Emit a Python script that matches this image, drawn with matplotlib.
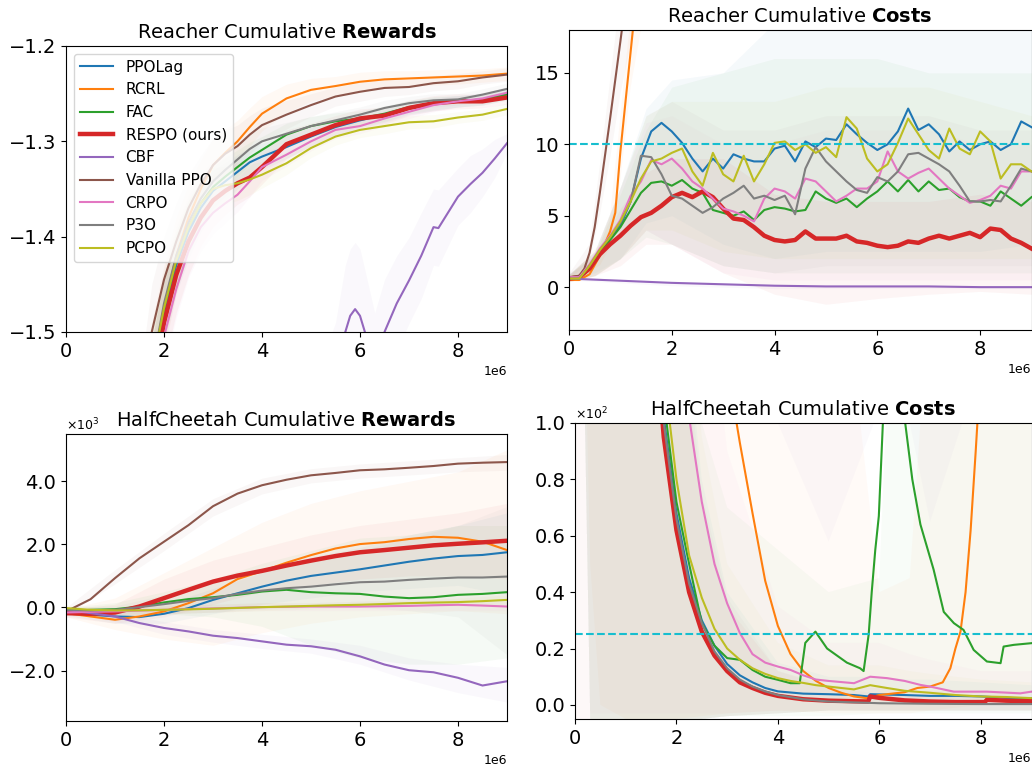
import numpy as np
import matplotlib
matplotlib.use("Agg")
import matplotlib.pyplot as plt
from matplotlib.ticker import ScalarFormatter

plt.rcParams['font.family'] = ['DejaVu Sans']
plt.rcParams['axes.unicode_minus'] = True

METHODS = ["PPOLag", "RCRL", "FAC", "RESPO (ours)", "CBF", "Vanilla PPO", "CRPO", "P3O", "PCPO"]
COLORS = ["#1f77b4", "#ff7f0e", "#2ca02c", "#d62728", "#9467bd", "#8c564b", "#e377c2", "#7f7f7f", "#bcbd22"]
X_TICKS = [0, 2, 4, 6, 8]

# ---------------- Reacher cumulative rewards (x in 1e6 steps) ----------------
RR_X = [1.5, 1.75, 2.0, 2.25, 2.5, 2.75, 3.0, 3.25, 3.5, 3.75, 4.0, 4.5, 5.0, 5.5, 6.0, 6.5, 7.0, 7.5, 8.0, 8.5, 9.0]
RR_PPOLAG = [-1.64, -1.55, -1.48, -1.43, -1.395, -1.37, -1.352, -1.342, -1.332, -1.322, -1.316, -1.306, -1.295, -1.285, -1.278, -1.272, -1.265, -1.261, -1.258, -1.256, -1.250]
RR_RCRL = [-1.62, -1.54, -1.475, -1.42, -1.38, -1.35, -1.325, -1.312, -1.300, -1.285, -1.271, -1.255, -1.246, -1.242, -1.2375, -1.235, -1.234, -1.233, -1.232, -1.231, -1.229]
RR_FAC = [-1.64, -1.55, -1.475, -1.425, -1.39, -1.365, -1.348, -1.337, -1.327, -1.317, -1.309, -1.293, -1.284, -1.279, -1.276, -1.271, -1.264, -1.260, -1.258, -1.256, -1.251]
RR_RESPO = [-1.65, -1.56, -1.49, -1.44, -1.405, -1.38, -1.362, -1.352, -1.344, -1.338, -1.327, -1.303, -1.293, -1.283, -1.276, -1.273, -1.265, -1.260, -1.258, -1.258, -1.254]
RR_VANILLA = [-1.60, -1.50, -1.445, -1.405, -1.37, -1.345, -1.325, -1.313, -1.305, -1.293, -1.283, -1.272, -1.262, -1.253, -1.248, -1.244, -1.243, -1.239, -1.237, -1.233, -1.230]
RR_CRPO = [-1.66, -1.58, -1.505, -1.455, -1.415, -1.39, -1.375, -1.365, -1.356, -1.342, -1.327, -1.314, -1.300, -1.288, -1.284, -1.276, -1.269, -1.262, -1.258, -1.255, -1.249]
RR_P3O = [-1.63, -1.54, -1.47, -1.42, -1.385, -1.36, -1.342, -1.33, -1.319, -1.308, -1.300, -1.292, -1.284, -1.278, -1.272, -1.265, -1.260, -1.257, -1.256, -1.251, -1.245]
RR_PCPO = [-1.62, -1.54, -1.475, -1.425, -1.39, -1.365, -1.35, -1.346, -1.344, -1.340, -1.335, -1.323, -1.307, -1.295, -1.288, -1.284, -1.280, -1.279, -1.275, -1.272, -1.266]
RR_HW_A = [0.05, 0.05, 0.045, 0.04, 0.035, 0.03, 0.028, 0.025, 0.022, 0.02, 0.018, 0.015, 0.012, 0.01, 0.01, 0.009, 0.008, 0.008, 0.008, 0.007, 0.007]
RR_HW_B = [0.04, 0.04, 0.035, 0.03, 0.028, 0.025, 0.022, 0.02, 0.018, 0.016, 0.014, 0.012, 0.01, 0.009, 0.008, 0.008, 0.007, 0.007, 0.006, 0.006, 0.006]
RR_CBF_X = [5.0, 5.5, 5.7, 5.8, 5.9, 6.0, 6.1, 6.3, 6.5, 6.75, 7.0, 7.25, 7.5, 7.6, 8.0, 8.25, 8.5, 8.75, 9.0]
RR_CBF = [-1.62, -1.56, -1.50, -1.483, -1.476, -1.483, -1.50, -1.54, -1.50, -1.47, -1.446, -1.42, -1.390, -1.391, -1.358, -1.345, -1.333, -1.318, -1.302]
RR_CBF_HW = [0.06, 0.07, 0.07, 0.07, 0.07, 0.07, 0.065, 0.06, 0.055, 0.05, 0.045, 0.045, 0.04, 0.04, 0.03, 0.03, 0.025, 0.02, 0.01]

# ---------------- Reacher cumulative costs ----------------
RC_X = [0.0, 0.2, 0.4, 0.6, 0.8, 1.0, 1.2, 1.4, 1.6, 1.8, 2.0, 2.2, 2.4, 2.6, 2.8, 3.0, 3.2, 3.4, 3.6, 3.8,
        4.0, 4.2, 4.4, 4.6, 4.8, 5.0, 5.2, 5.4, 5.6, 5.8, 6.0, 6.2, 6.4, 6.6, 6.8, 7.0, 7.2, 7.4, 7.6, 7.8,
        8.0, 8.2, 8.4, 8.6, 8.8, 9.0]
RC_PPOLAG = [0.7, 0.7, 1.5, 2.5, 3.4, 4.3, 6.0, 9.0, 10.9, 11.5, 10.9, 10.1, 9.0, 8.1, 9.0, 8.3, 9.3, 9.0, 8.8, 8.8,
             9.7, 9.9, 8.8, 10.2, 9.8, 10.4, 10.3, 11.4, 10.7, 10.1, 9.6, 10.0, 10.9, 12.5, 11.0, 11.4, 10.7, 9.5, 10.2, 9.6,
             10.0, 10.2, 9.6, 10.0, 11.6, 11.2]
RC_FAC = [0.6, 0.6, 1.4, 2.4, 3.3, 4.2, 5.4, 6.6, 7.3, 7.4, 7.1, 7.5, 6.9, 6.6, 5.4, 5.2, 5.0, 5.3, 4.7, 5.4,
          5.6, 5.5, 5.3, 5.4, 6.7, 6.2, 5.9, 6.2, 5.6, 6.2, 6.7, 7.4, 6.7, 7.5, 6.7, 7.4, 6.8, 6.9, 6.3, 6.0,
          6.0, 5.7, 6.7, 6.2, 5.7, 6.3]
RC_RESPO = [0.6, 0.7, 1.3, 2.3, 3.0, 3.6, 4.3, 4.9, 5.2, 5.7, 6.3, 6.6, 6.3, 6.7, 6.3, 5.5, 4.8, 4.7, 4.2, 3.6,
            3.3, 3.2, 3.3, 3.9, 3.4, 3.4, 3.4, 3.6, 3.2, 3.1, 2.9, 2.8, 2.9, 3.2, 3.1, 3.4, 3.6, 3.4, 3.6, 3.8,
            3.5, 4.1, 4.0, 3.4, 3.1, 2.7]
RC_CRPO = [0.7, 0.7, 1.6, 2.7, 3.6, 4.7, 6.4, 7.4, 8.9, 8.6, 9.0, 8.3, 7.4, 6.9, 6.2, 5.5, 5.3, 5.0, 4.6, 6.2,
           6.9, 6.7, 6.2, 7.6, 7.4, 6.7, 6.0, 6.4, 6.9, 6.9, 7.4, 9.5, 8.1, 7.6, 8.0, 8.3, 7.6, 6.9, 6.4, 5.9,
           6.1, 6.4, 7.1, 6.9, 8.1, 8.1]
RC_P3O = [0.6, 0.6, 1.5, 2.6, 3.5, 4.5, 6.0, 9.2, 9.1, 7.9, 6.4, 6.2, 5.7, 5.2, 5.6, 6.2, 6.6, 7.1, 6.2, 6.4,
          6.1, 6.4, 5.1, 8.3, 9.8, 8.8, 8.1, 7.4, 6.8, 6.6, 7.7, 7.4, 8.1, 9.3, 9.4, 9.0, 8.6, 8.1, 7.1, 6.0,
          6.0, 6.1, 6.0, 7.1, 8.3, 8.1]
RC_PCPO = [0.6, 0.6, 1.5, 2.6, 3.5, 4.6, 6.0, 7.6, 8.8, 9.0, 9.4, 9.7, 8.1, 7.1, 9.4, 7.9, 7.4, 9.2, 7.4, 8.6,
           10.1, 10.2, 9.6, 10.0, 9.4, 9.8, 9.1, 11.9, 11.1, 9.0, 8.1, 8.6, 10.1, 11.8, 10.7, 9.6, 9.0, 11.1, 9.7, 9.3,
           10.9, 10.2, 7.6, 8.6, 8.6, 8.1]
RC_RCRL_X = [0.0, 0.2, 0.4, 0.6, 0.8, 0.9, 1.0, 1.1, 1.2, 1.3, 1.5, 9.0]
RC_RCRL = [0.5, 0.5, 0.9, 2.2, 3.9, 5.2, 9.5, 13.0, 16.5, 20.0, 26.0, 60.0]
RC_VANILLA_X = [0.0, 0.2, 0.3, 0.4, 0.5, 0.6, 0.7, 0.8, 0.9, 1.0, 1.1, 1.5, 9.0]
RC_VANILLA = [0.7, 0.8, 1.3, 2.4, 4.2, 6.6, 9.2, 11.8, 14.5, 17.2, 20.0, 30.0, 60.0]
RC_CBF_X = [0, 1, 2, 3, 4, 5, 6, 7, 8, 9]
RC_CBF = [0.6, 0.45, 0.3, 0.2, 0.1, 0.05, 0.05, 0.05, 0.0, 0.0]
RC_THRESHOLD = 10
# std bands (lower / upper) on a coarse grid
RC_BX = [0, 0.5, 1, 1.5, 2, 3, 4, 5, 6, 7, 8, 9]
RC_LO_PPOLAG = [0.5, 1.0, 2.0, 4.5, 5.0, 3.0, 2.0, 2.5, 2.5, 2.5, 2.5, 3.0]
RC_HI_PPOLAG = [0.9, 2.5, 7.0, 12.5, 14.5, 15.0, 18.5, 19.0, 19.0, 19.0, 19.0, 18.0]
RC_LO_FAC = [0.4, 0.8, 2.0, 3.5, 3.0, 1.5, 1.0, 1.0, 1.0, 1.0, 1.0, 1.0]
RC_HI_FAC = [0.9, 2.3, 6.5, 11.0, 14.0, 15.0, 16.0, 16.0, 16.0, 15.0, 15.0, 15.0]
RC_LO_RESPO = [0.4, 0.8, 1.5, 3.0, 3.0, 1.0, -0.5, -1.2, -0.8, -0.5, -0.3, -0.5]
RC_HI_RESPO = [0.9, 2.2, 5.5, 8.0, 9.0, 9.0, 6.5, 6.0, 6.0, 6.0, 6.5, 6.0]
RC_LO_CBF = [0.5, 0.4, 0.3, 0.2, 0.1, 0.0, -0.1, -0.1, -0.1, -0.1, -0.1, -0.1]
RC_HI_CBF = [0.7, 0.6, 0.5, 0.4, 0.3, 0.2, 0.15, 0.1, 0.1, 0.1, 0.05, 0.05]
RC_LO_CRPO = [0.4, 0.8, 2.0, 4.0, 3.0, 1.0, 0.5, 0.5, 0.5, 0.5, 0.5, 0.5]
RC_HI_CRPO = [0.9, 2.5, 7.0, 11.5, 12.0, 10.0, 10.0, 11.0, 11.0, 11.0, 10.0, 10.0]
RC_LO_P3O = [0.4, 0.8, 2.0, 4.0, 3.0, 1.5, 1.0, 1.5, 1.5, 1.5, 1.5, 1.5]
RC_HI_P3O = [0.9, 2.5, 7.0, 12.0, 13.0, 11.0, 11.0, 12.0, 12.0, 12.0, 11.0, 11.0]
RC_LO_PCPO = [0.4, 0.8, 2.0, 4.0, 4.0, 2.5, 2.0, 2.0, 2.0, 2.0, 2.0, 2.0]
RC_HI_PCPO = [0.9, 2.5, 7.0, 12.0, 13.0, 13.0, 13.0, 14.0, 14.0, 14.0, 13.0, 12.0]
RC_RCRL_BX = [0.0, 0.6, 0.8, 1.0, 1.2, 1.5, 9.0]
RC_LO_RCRL = [0.4, 1.5, 2.8, 7.5, 14.0, 20.0, 50.0]
RC_HI_RCRL = [0.7, 3.0, 5.0, 12.0, 19.0, 30.0, 70.0]
RC_VANILLA_BX = [0.0, 0.4, 0.6, 0.8, 1.0, 1.2, 1.5, 9.0]
RC_LO_VANILLA = [0.5, 1.8, 5.0, 9.0, 13.5, 17.0, 22.0, 50.0]
RC_HI_VANILLA = [0.9, 3.0, 8.5, 14.5, 20.5, 24.0, 38.0, 70.0]

# ---------------- HalfCheetah cumulative rewards ----------------
HR_X = [0.0, 0.5, 1.0, 1.5, 2.0, 2.5, 3.0, 3.5, 4.0, 4.5, 5.0, 5.5, 6.0, 6.5, 7.0, 7.5, 8.0, 8.5, 9.0]
HR_PPOLAG = [-126, -230, -285, -305, -200, -20, 240, 450, 660, 850, 1000, 1105, 1210, 1330, 1450, 1550, 1630, 1665, 1750]
HR_RCRL = [-180, -285, -390, -285, -126, 137, 450, 900, 1150, 1420, 1660, 1870, 2010, 2070, 2170, 2240, 2210, 2085, 1820]
HR_FAC = [-126, -75, -55, 30, 160, 265, 325, 400, 505, 560, 485, 450, 430, 345, 295, 325, 400, 430, 485]
HR_RESPO = [-180, -200, -160, 30, 295, 560, 820, 1010, 1160, 1330, 1485, 1630, 1750, 1820, 1895, 1970, 2020, 2065, 2115]
HR_CBF = [-75, -180, -285, -495, -650, -760, -895, -970, -1075, -1180, -1230, -1340, -1550, -1810, -1990, -2055, -2230, -2475, -2340]
HR_VANILLA = [-130, 260, 930, 1560, 2085, 2610, 3210, 3610, 3875, 4050, 4190, 4265, 4350, 4380, 4430, 4485, 4560, 4590, 4610]
HR_CRPO = [-160, -140, -126, -100, -75, -50, -30, -10, 10, 20, 30, 30, 30, 40, 50, 70, 85, 60, 30]
HR_P3O = [-75, -95, -75, 10, 105, 210, 295, 430, 535, 610, 660, 735, 800, 820, 875, 915, 950, 950, 980]
HR_PCPO = [-20, -75, -95, -90, -75, -60, -40, -15, 10, 30, 50, 70, 85, 110, 137, 155, 170, 200, 240]
HR_BX = [0, 1, 2, 3, 4, 5, 6, 7, 8, 9]
HR_LO_PPOLAG = [-250, -500, -500, -200, 100, 300, 500, 600, 700, 400]
HR_HI_PPOLAG = [0, -100, 100, 600, 1100, 1600, 1900, 2300, 2600, 3000]
HR_LO_RCRL = [-300, -700, -1000, -1200, -800, -500, -300, -200, -100, -200]
HR_HI_RCRL = [-50, 300, 1100, 1900, 2700, 3300, 3700, 4000, 4300, 5000]
HR_LO_FAC = [-250, -300, -200, -300, -600, -1200, -1600, -1800, -1800, -1600]
HR_HI_FAC = [0, 150, 500, 900, 1400, 1800, 2200, 2300, 2600, 2600]
HR_LO_RESPO = [-300, -500, -300, 100, 500, 700, 900, 1000, 1000, 900]
HR_HI_RESPO = [-50, 100, 900, 1500, 1900, 2300, 2600, 2800, 3000, 3300]
HR_LO_CBF = [-150, -450, -850, -1100, -1300, -1450, -1800, -2300, -2700, -3000]
HR_HI_CBF = [0, -150, -450, -700, -850, -1000, -1200, -1600, -1800, -1900]
HR_LO_VANILLA = [-250, 750, 1800, 2900, 3600, 3950, 4100, 4200, 4300, 4350]
HR_HI_VANILLA = [0, 1200, 2350, 3450, 4100, 4400, 4550, 4650, 4750, 4850]
HR_LO_CRPO = [-250, -250, -200, -150, -100, -100, -100, -100, -100, -100]
HR_HI_CRPO = [-50, 0, 50, 100, 150, 150, 200, 200, 250, 200]
HR_LO_P3O = [-150, -200, -200, -150, -50, 0, 0, -100, -300, -1500]
HR_HI_P3O = [0, 50, 400, 800, 1200, 1500, 1800, 2200, 2600, 3200]
HR_LO_PCPO = [-200, -250, -200, -150, -100, -50, 0, 50, 50, 100]
HR_HI_PCPO = [50, 0, 50, 100, 150, 150, 200, 250, 300, 400]

# ---------------- HalfCheetah cumulative costs ----------------
HC_PPOLAG_X = [0, 1.0, 1.5, 1.75, 2.0, 2.25, 2.5, 2.75, 3.0, 3.25, 3.5, 3.75, 4.0, 4.5, 5.0, 5.5, 5.78, 5.82, 6.5, 7.0, 7.5, 8.0, 8.5, 9.0]
HC_PPOLAG = [2000, 430, 165, 102, 68, 45, 30, 21, 14.5, 10.5, 8, 6, 4.8, 4.0, 3.8, 3.5, 3.0, 3.8, 3.5, 3.2, 3.2, 3.0, 2.5, 2.2]
HC_RCRL_X = [0, 2.0, 3.0, 3.25, 3.5, 3.75, 4.0, 4.25, 4.5, 4.75, 5.0, 5.25, 5.5, 5.75, 6.0, 6.25, 6.5, 6.75, 7.0, 7.25, 7.4, 7.5, 7.6, 7.7, 7.8, 7.9, 8.0, 9.0]
HC_RCRL = [3000, 400, 120, 93, 68, 44, 28, 18, 12, 8.5, 6, 4.3, 3, 2.4, 3.5, 4.0, 4.5, 6, 6.5, 8, 13, 20, 26, 40, 62, 90, 120, 300]
HC_FAC_X = [0, 1.0, 1.5, 1.75, 2.0, 2.25, 2.5, 2.75, 3.0, 3.25, 3.5, 3.75, 4.0, 4.25, 4.43, 4.54, 4.74, 4.97, 5.36, 5.62, 5.69,
            5.79, 5.85, 5.92, 5.99, 6.07, 6.3, 6.51, 6.65, 6.81, 7.07, 7.27, 7.47, 7.66, 7.86, 8.12, 8.39, 8.45, 8.65, 9.0]
HC_FAC = [2000, 440, 170, 108, 72, 50, 29, 21, 16.6, 16, 12.4, 10, 8.9, 7.7, 7.7, 22, 26, 20, 15, 13, 12,
          25, 40, 55, 67, 100, 140, 100, 80, 64, 48, 33, 29, 26.6, 19.5, 15.4, 14.8, 20.7, 21.3, 21.9]
HC_RESPO_X = [0, 1.0, 1.5, 1.75, 2.0, 2.25, 2.5, 2.75, 3.0, 3.25, 3.5, 3.75, 4.0, 4.5, 5.0, 5.5, 5.78, 5.82, 6.0, 6.5, 7.0, 7.5, 8.08, 8.12, 8.5, 9.0]
HC_RESPO = [2000, 400, 150, 95, 62, 40, 26, 17.5, 12, 8, 6, 4.3, 3.2, 2.0, 1.5, 1.3, 1.2, 3.0, 2.5, 1.6, 1.2, 1.0, 1.0, 1.8, 1.5, 1.3]
HC_CBF_X = [0, 3, 6, 9]
HC_CBF = [3000, 400, 250, 250]
HC_VANILLA_X = [0, 3, 6, 9]
HC_VANILLA = [3000, 600, 400, 350]
HC_CRPO_X = [0, 1.0, 1.5, 2.0, 2.25, 2.5, 2.75, 3.0, 3.25, 3.5, 3.75, 4.0, 4.25, 4.5, 4.75, 5.0, 5.5, 5.82, 6.15, 6.5, 6.81, 7.0, 7.47, 8.12, 8.78, 9.0]
HC_CRPO = [3000, 900, 350, 160, 102, 72, 50, 36, 25.5, 18, 15, 13.6, 12.4, 10.5, 9, 8.5, 7.7, 10, 9.5, 8.5, 7.1, 6.5, 4.7, 4.7, 4.1, 4.7]
HC_P3O_X = [0, 1.0, 1.5, 1.75, 2.0, 2.25, 2.5, 2.75, 3.0, 3.25, 3.5, 3.75, 4.0, 4.5, 5.0, 6.0, 7.0, 8.0, 9.0]
HC_P3O = [2000, 420, 160, 100, 66, 43, 29, 19, 13, 9, 6.5, 4.8, 3.5, 2.0, 1.2, 0.6, 0.4, 0.3, 0.3]
HC_PCPO_X = [0, 1.0, 1.5, 1.75, 2.0, 2.25, 2.5, 2.75, 3.0, 3.25, 3.5, 3.75, 4.0, 4.25, 4.5, 4.75, 5.0, 5.25, 5.5, 5.82, 6.15, 6.5, 7.0, 7.5, 8.0, 8.5, 9.0]
HC_PCPO = [2000, 500, 190, 118, 80, 53, 38, 27, 20, 16, 13, 11, 9.5, 8.5, 7.8, 7.0, 6.5, 6.0, 5.5, 7.0, 6.0, 5.0, 4.3, 3.5, 3.0, 2.8, 2.4]
HC_THRESHOLD = 25
HC_BX = [0, 0.3, 0.5, 1, 1.5, 2, 2.5, 3, 4, 5, 6, 6.6, 7, 8, 9]
HC_LO_PPOLAG = [300, -5, -5, -5, -5, -5, -5, -4, -3, -2, -2, -2, -2, -2, -2]
HC_HI_PPOLAG = [3000, 3000, 2000, 800, 330, 170, 80, 40, 15, 10, 10, 9, 9, 8, 7]
HC_LO_RCRL = [300, 50, 0, -5, -5, -5, -4, -3, -2, -3, -3, -3, -2, 0, 5]
HC_HI_RCRL = [3000, 3000, 3000, 3000, 3000, 2000, 1000, 500, 300, 200, 40, 45, 150, 400, 500]
HC_LO_FAC = [300, -5, -5, -5, -5, -5, -5, -4, -4, -4, -3, -3, -3, -3, -3]
HC_HI_FAC = [3000, 3000, 2000, 900, 400, 200, 100, 70, 55, 40, 45, 300, 250, 300, 300]
HC_LO_RESPO = [-5, -5, -5, -5, -5, -5, -5, -4, -3, -2, -2, -2, -2, -2, -2]
HC_HI_RESPO = [3000, 3000, 2000, 800, 300, 150, 70, 35, 12, 7, 6, 5, 5, 5, 5]
HC_LO_CBF = [3000, 2000, 1000, 700, 500, 400, 300, 200, 100, 58, 105, 100, 65, 120, 150]
HC_HI_CBF = [5000, 5000, 5000, 5000, 5000, 5000, 5000, 5000, 5000, 5000, 5000, 5000, 5000, 5000, 5000]
HC_LO_CRPO = [300, -3, -3, -3, -3, -3, -3, -3, -2, -2, -2, -2, -2, -2, -2]
HC_HI_CRPO = [3000, 3000, 2500, 1500, 700, 300, 170, 90, 35, 22, 22, 18, 16, 12, 12]
HC_LO_P3O = [300, -5, -5, -5, -5, -5, -5, -4, -3, -2, -2, -2, -2, -2, -2]
HC_HI_P3O = [3000, 3000, 2000, 800, 320, 160, 75, 38, 12, 6, 4, 3, 3, 3, 3]
HC_LO_PCPO = [300, -5, -5, -5, -5, -5, -5, -4, -3, -2, -2, -2, -2, -2, -2]
HC_HI_PCPO = [3000, 3000, 2000, 900, 380, 190, 95, 50, 22, 14, 14, 12, 11, 9, 8]


class OneDecimalSci(ScalarFormatter):
    def _set_format(self):
        self.format = "%1.1f"


M = 1e6
BAND_ALPHA = 0.045
BAND_ALPHA_HC_COST = 0.033


def lw_of(name):
    return 3.2 if name.startswith("RESPO") else 1.5


def style_axes(ax, title_plain, title_bold, ylim, yticks):
    ax.set_title(title_plain + r" $\mathbf{" + title_bold + "}$", fontsize=14)
    ax.set_xlim(0, 9 * M)
    ax.set_xticks([t * M for t in X_TICKS])
    ax.set_ylim(*ylim)
    ax.set_yticks(yticks)
    ax.tick_params(labelsize=14)
    ax.xaxis.get_offset_text().set_fontsize(9)


fig = plt.figure(figsize=(10.32, 7.68), dpi=100)

# ---------- Panel 1: Reacher rewards ----------
ax1 = fig.add_axes([66 / 1032, 1 - 332 / 768, 441 / 1032, 286 / 768])
rr_series = [RR_PPOLAG, RR_RCRL, RR_FAC, RR_RESPO, None, RR_VANILLA, RR_CRPO, RR_P3O, RR_PCPO]
rr_hw = [RR_HW_B, RR_HW_A, RR_HW_B, RR_HW_A, None, RR_HW_A, RR_HW_B, RR_HW_B, RR_HW_B]
xr = np.array(RR_X) * M
for name, col, ys, hw in zip(METHODS, COLORS, rr_series, rr_hw):
    if ys is None:
        xc = np.array(RR_CBF_X) * M
        yc = np.array(RR_CBF)
        h = np.array(RR_CBF_HW)
        ax1.fill_between(xc, yc - h, yc + h, color=col, alpha=BAND_ALPHA, lw=0)
        ax1.plot(xc, yc, color=col, lw=lw_of(name), label=name)
    else:
        y = np.array(ys)
        h = np.array(hw)
        ax1.fill_between(xr, y - h, y + h, color=col, alpha=BAND_ALPHA, lw=0)
        ax1.plot(xr, y, color=col, lw=lw_of(name), label=name)
style_axes(ax1, "Reacher Cumulative", "Rewards", (-1.5, -1.2), [-1.5, -1.4, -1.3, -1.2])
ax1.legend(loc="upper left", fontsize=11, handlelength=2.2)

# ---------- Panel 2: Reacher costs ----------
ax2 = fig.add_axes([569 / 1032, 1 - 330 / 768, 462.5 / 1032, 300 / 768])
rc_lines = [(RC_X, RC_PPOLAG), (RC_RCRL_X, RC_RCRL), (RC_X, RC_FAC), (RC_X, RC_RESPO), (RC_CBF_X, RC_CBF),
            (RC_VANILLA_X, RC_VANILLA), (RC_X, RC_CRPO), (RC_X, RC_P3O), (RC_X, RC_PCPO)]
rc_bands = [(RC_BX, RC_LO_PPOLAG, RC_HI_PPOLAG), (RC_RCRL_BX, RC_LO_RCRL, RC_HI_RCRL), (RC_BX, RC_LO_FAC, RC_HI_FAC),
            (RC_BX, RC_LO_RESPO, RC_HI_RESPO), (RC_BX, RC_LO_CBF, RC_HI_CBF), (RC_VANILLA_BX, RC_LO_VANILLA, RC_HI_VANILLA),
            (RC_BX, RC_LO_CRPO, RC_HI_CRPO), (RC_BX, RC_LO_P3O, RC_HI_P3O), (RC_BX, RC_LO_PCPO, RC_HI_PCPO)]
for col, (bx, lo, hi) in zip(COLORS, rc_bands):
    ax2.fill_between(np.array(bx) * M, lo, hi, color=col, alpha=BAND_ALPHA, lw=0)
for name, col, (lx, ly) in zip(METHODS, COLORS, rc_lines):
    ax2.plot(np.array(lx) * M, ly, color=col, lw=lw_of(name))
ax2.axhline(RC_THRESHOLD, color="#17becf", ls="--", lw=1.5)
style_axes(ax2, "Reacher Cumulative", "Costs", (-3, 18), [0, 5, 10, 15])

# ---------- Panel 3: HalfCheetah rewards ----------
ax3 = fig.add_axes([66 / 1032, 1 - 721 / 768, 441 / 1032, 287 / 768])
hr_lines = [HR_PPOLAG, HR_RCRL, HR_FAC, HR_RESPO, HR_CBF, HR_VANILLA, HR_CRPO, HR_P3O, HR_PCPO]
hr_bands = [(HR_LO_PPOLAG, HR_HI_PPOLAG), (HR_LO_RCRL, HR_HI_RCRL), (HR_LO_FAC, HR_HI_FAC), (HR_LO_RESPO, HR_HI_RESPO),
            (HR_LO_CBF, HR_HI_CBF), (HR_LO_VANILLA, HR_HI_VANILLA), (HR_LO_CRPO, HR_HI_CRPO), (HR_LO_P3O, HR_HI_P3O),
            (HR_LO_PCPO, HR_HI_PCPO)]
for col, (lo, hi) in zip(COLORS, hr_bands):
    ax3.fill_between(np.array(HR_BX) * M, lo, hi, color=col, alpha=BAND_ALPHA, lw=0)
for name, col, ys in zip(METHODS, COLORS, hr_lines):
    ax3.plot(np.array(HR_X) * M, ys, color=col, lw=lw_of(name))
style_axes(ax3, "HalfCheetah Cumulative", "Rewards", (-3600, 5500), [-2000, 0, 2000, 4000])
f3 = OneDecimalSci(useMathText=True)
f3.set_powerlimits((0, 0))
ax3.yaxis.set_major_formatter(f3)
ax3.yaxis.get_offset_text().set_fontsize(9)

# ---------- Panel 4: HalfCheetah costs ----------
ax4 = fig.add_axes([575 / 1032, 1 - 719 / 768, 456.5 / 1032, 296 / 768])
hc_lines = [(HC_PPOLAG_X, HC_PPOLAG), (HC_RCRL_X, HC_RCRL), (HC_FAC_X, HC_FAC), (HC_RESPO_X, HC_RESPO),
            (HC_CBF_X, HC_CBF), (HC_VANILLA_X, HC_VANILLA), (HC_CRPO_X, HC_CRPO), (HC_P3O_X, HC_P3O),
            (HC_PCPO_X, HC_PCPO)]
hc_bands = [(HC_LO_PPOLAG, HC_HI_PPOLAG), (HC_LO_RCRL, HC_HI_RCRL), (HC_LO_FAC, HC_HI_FAC), (HC_LO_RESPO, HC_HI_RESPO),
            (HC_LO_CBF, HC_HI_CBF), None, (HC_LO_CRPO, HC_HI_CRPO), (HC_LO_P3O, HC_HI_P3O), (HC_LO_PCPO, HC_HI_PCPO)]
for col, band in zip(COLORS, hc_bands):
    if band is not None:
        ax4.fill_between(np.array(HC_BX) * M, band[0], band[1], color=col, alpha=BAND_ALPHA_HC_COST, lw=0)
for name, col, (lx, ly) in zip(METHODS, COLORS, hc_lines):
    ax4.plot(np.array(lx) * M, ly, color=col, lw=lw_of(name))
ax4.axhline(HC_THRESHOLD, color="#17becf", ls="--", lw=1.5)
style_axes(ax4, "HalfCheetah Cumulative", "Costs", (-5, 100), [0, 20, 40, 60, 80, 100])
f4 = OneDecimalSci(useMathText=True)
f4.set_powerlimits((0, 0))
ax4.yaxis.set_major_formatter(f4)
ax4.yaxis.get_offset_text().set_fontsize(9)

fig.savefig("out.png", dpi=100)
